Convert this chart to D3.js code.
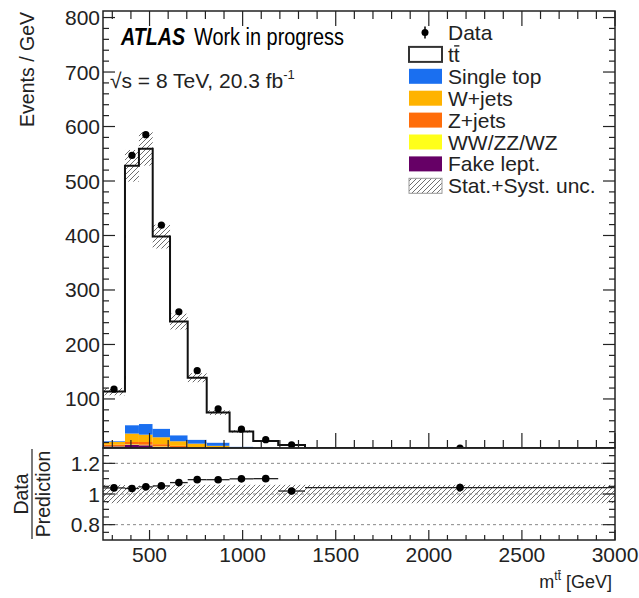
<!DOCTYPE html>
<html><head><meta charset="utf-8">
<script src="https://cdn.jsdelivr.net/npm/d3@7"></script>
<style>
html,body{margin:0;padding:0;background:#fff;}
svg{display:block;font-family:"Liberation Sans",Arial,Helvetica,sans-serif;}
</style></head>
<body>
<svg id="c" width="639" height="598"></svg>
<script>
// ---- data (events / GeV) ----
const binEdges = [250, 368, 443, 517, 610, 705, 807, 930, 1057, 1191, 1335, 3000];
const dataVals = [118, 547, 585, 419, 260, 152, 82, 44.5, 25.3, 15.8, 1.25];
const dataErr  = [1.3, 2.7, 2.8, 2.4, 1.7, 1.1, 0.8, 0.6, 0.45, 0.33, 0.03];
const fakeLept = [13, 16, 15, 12, 10, 7, 5, 3, 2, 1.5, 0.1];
const diboson  = [0.5, 1, 1, 1, 0.8, 0.7, 0.5, 0.4, 0.3, 0.2, 0.02];
const zJets    = [2.5, 4, 5, 4, 3.2, 2.8, 2.5, 1.6, 1.2, 0.8, 0.05];
const wJets    = [5, 15.5, 13.5, 12.7, 8.4, 7.5, 6, 3.5, 3.3, 2, 0.1];
const singleTop= [1.5, 15.4, 19.5, 15.8, 11, 7.3, 6, 4, 4, 2, 0.13];
const ttbar    = [91, 476, 505, 352.5, 208.6, 113.7, 55, 28, 12.2, 9, 0.8];
const uncRel   = [0.06, 0.055, 0.055, 0.055, 0.06, 0.06, 0.06, 0.06, 0.06, 0.06, 0.06];
const yTicksTop = [100, 200, 300, 400, 500, 600, 700, 800];
const yTicksRatio = [0.8, 1, 1.2];
const xTicks = [500, 1000, 1500, 2000, 2500, 3000];

const legendItems = [
  {label:"Data", type:"data"},
  {label:"tt", type:"tt"},
  {label:"Single top", type:"box", color:"#1a6ff0"},
  {label:"W+jets", type:"box", color:"#ffb300"},
  {label:"Z+jets", type:"box", color:"#ff6d0a"},
  {label:"WW/ZZ/WZ", type:"box", color:"#ffff1a"},
  {label:"Fake lept.", type:"box", color:"#660066"},
  {label:"Stat.+Syst. unc.", type:"hatch"}
];

// ---- layout ----
const L = 103, R = 615, T = 11, B1 = 448, B2 = 540;
const svg = d3.select("#c");
const x = d3.scaleLinear().domain([250, 3000]).range([L, R]);
const y = d3.scaleLinear().domain([10, 812]).range([B1, T]).clamp(true);
const yr = d3.scaleLinear().domain([0.7, 1.3]).range([B2, B1]).clamp(true);

const defs = svg.append("defs");
const pat = defs.append("pattern").attr("id","hatch").attr("patternUnits","userSpaceOnUse")
  .attr("width",5).attr("height",5);
pat.append("path").attr("d","M-1,6 L6,-1 M-1,1 L1,-1 M4,6 L6,4")
  .attr("stroke","#6e6e6e").attr("stroke-width",1);
defs.append("clipPath").attr("id","clipTop").append("rect")
  .attr("x",L).attr("y",T).attr("width",R-L).attr("height",B1-T);
defs.append("clipPath").attr("id","clipRat").append("rect")
  .attr("x",L).attr("y",B1).attr("width",R-L).attr("height",B2-B1);

const nb = dataVals.length;
const bins = d3.range(nb).map(i => ({
  i, lo: binEdges[i], hi: binEdges[i+1], c: (binEdges[i]+binEdges[i+1])/2
}));

// stack
const layers = [
  {vals: fakeLept, color: "#660066"},
  {vals: diboson, color: "#ffff1a"},
  {vals: zJets, color: "#ff6d0a"},
  {vals: wJets, color: "#ffb300"},
  {vals: singleTop, color: "#1a6ff0"},
  {vals: ttbar, color: "#ffffff"}
];
const cum = new Array(nb).fill(0);
const gTop = svg.append("g").attr("clip-path","url(#clipTop)");
const stacked = layers.map(Ly => {
  const arr = bins.map(b => {
    const y0 = cum[b.i]; const y1 = y0 + Ly.vals[b.i];
    cum[b.i] = y1; return {b, y0, y1};
  });
  return {Ly, arr};
});
stacked.forEach(s => {
  gTop.selectAll(null).data(s.arr).enter().append("rect")
    .attr("x", d => x(d.b.lo)).attr("width", d => x(d.b.hi) - x(d.b.lo))
    .attr("y", d => y(d.y1)).attr("height", d => Math.max(0, y(d.y0) - y(d.y1)))
    .attr("fill", s.Ly.color).attr("stroke","none");
});
const total = cum.slice();

// uncertainty band
gTop.selectAll(null).data(bins).enter().append("rect")
  .attr("x", b => x(b.lo)).attr("width", b => x(b.hi)-x(b.lo))
  .attr("y", b => y(total[b.i]*(1+uncRel[b.i])))
  .attr("height", b => y(total[b.i]*(1-uncRel[b.i])) - y(total[b.i]*(1+uncRel[b.i])))
  .attr("fill","url(#hatch)");

// total MC outline (step)
const stepPts = [];
bins.forEach(b => { stepPts.push([x(b.lo), y(total[b.i])]); stepPts.push([x(b.hi), y(total[b.i])]); });
const stepPath = "M" + x(binEdges[0]) + "," + y(10) + "L" + stepPts.map(p => p.join(",")).join("L");
gTop.append("path").attr("d", stepPath).attr("fill","none").attr("stroke","#111").attr("stroke-width",2);

// data points top
gTop.selectAll(null).data(bins).enter().append("line")
  .attr("x1", b => x(b.c)).attr("x2", b => x(b.c))
  .attr("y1", b => y(dataVals[b.i]-dataErr[b.i])).attr("y2", b => y(dataVals[b.i]+dataErr[b.i]))
  .attr("stroke","#000").attr("stroke-width",1.5);
gTop.selectAll(null).data(bins).enter().append("circle")
  .attr("cx", b => x(b.c)).attr("cy", b => y(dataVals[b.i])).attr("r",3.6).attr("fill","#000");

// ratio panel
const rat = svg.append("g").attr("clip-path","url(#clipRat)");
rat.selectAll(null).data(bins).enter().append("rect")
  .attr("x", b => x(b.lo)).attr("width", b => x(b.hi)-x(b.lo))
  .attr("y", b => yr(1+uncRel[b.i])).attr("height", b => yr(1-uncRel[b.i]) - yr(1+uncRel[b.i]))
  .attr("fill","url(#hatch)");
[0.8, 1, 1.2].forEach(v => {
  rat.append("line").attr("x1",L).attr("x2",R).attr("y1",yr(v)).attr("y2",yr(v))
    .attr("stroke","#888").attr("stroke-width",1).attr("stroke-dasharray","3,3");
});
const ratio = bins.map(b => dataVals[b.i]/total[b.i]);
const ratioErr = bins.map(b => dataErr[b.i]/total[b.i]);
rat.selectAll(null).data(bins).enter().append("line")
  .attr("x1", b => x(b.lo)).attr("x2", b => x(b.hi))
  .attr("y1", b => yr(ratio[b.i])).attr("y2", b => yr(ratio[b.i]))
  .attr("stroke","#222").attr("stroke-width",1.3);
rat.selectAll(null).data(bins).enter().append("line")
  .attr("x1", b => x(b.c)).attr("x2", b => x(b.c))
  .attr("y1", b => yr(ratio[b.i]-ratioErr[b.i])).attr("y2", b => yr(ratio[b.i]+ratioErr[b.i]))
  .attr("stroke","#000").attr("stroke-width",1.5);
rat.selectAll(null).data(bins).enter().append("circle")
  .attr("cx", b => x(b.c)).attr("cy", b => yr(ratio[b.i])).attr("r",3.8).attr("fill","#000");

// ---- axes: frames and inward ticks ----
const axC = "#222";
function frame(y0, y1) {
  svg.append("rect").attr("x",L).attr("y",y0).attr("width",R-L).attr("height",y1-y0)
    .attr("fill","none").attr("stroke",axC).attr("stroke-width",1.5);
}
frame(T, B1); frame(B1, B2);

function vTicks(scale, majors, minorStep, lo, hi, majLen, minLen) {
  const g = svg.append("g").attr("stroke",axC).attr("stroke-width",1.2);
  const mins = d3.range(lo, hi + 1e-9, minorStep);
  mins.forEach(v => {
    const isMaj = majors.some(m => Math.abs(m - v) < 1e-6);
    const len = isMaj ? majLen : minLen, py = scale(v);
    g.append("line").attr("x1",L).attr("x2",L+len).attr("y1",py).attr("y2",py);
    g.append("line").attr("x1",R).attr("x2",R-len).attr("y1",py).attr("y2",py);
  });
}
vTicks(y, yTicksTop, 20, 20, 800, 12, 6);
vTicks(yr, yTicksRatio, 0.05, 0.75, 1.25, 12, 6);

function hTicks(yBase, dir, majLen, minLen) {
  const g = svg.append("g").attr("stroke",axC).attr("stroke-width",1.2);
  d3.range(300, 3001, 100).forEach(v => {
    const isMaj = v % 500 === 0;
    const len = isMaj ? majLen : minLen, px = x(v);
    g.append("line").attr("x1",px).attr("x2",px).attr("y1",yBase).attr("y2",yBase + dir*len);
  });
}
hTicks(B1, -1, 15, 8);
hTicks(T, 1, 15, 8);
hTicks(B2, -1, 10, 5);

// tick labels
const fs = 21;
svg.append("g").selectAll("text").data(yTicksTop).enter().append("text")
  .attr("x", 100).attr("y", d => y(d) + 7.5).attr("text-anchor","end")
  .attr("font-size",fs).attr("fill","#222").text(d => d);
svg.append("g").selectAll("text").data(yTicksRatio).enter().append("text")
  .attr("x", 100).attr("y", d => yr(d) + 7.5).attr("text-anchor","end")
  .attr("font-size",fs).attr("fill","#222").text(d => d3.format("~g")(d));
svg.append("g").selectAll("text").data(xTicks).enter().append("text")
  .attr("x", d => x(d)).attr("y", 562).attr("text-anchor","middle")
  .attr("font-size",fs).attr("fill","#222").text(d => d);

// axis titles
svg.append("text").attr("transform","translate(34,12) rotate(-90)").attr("text-anchor","end")
  .attr("font-size",19.5).attr("fill","#222").text("Events / GeV");
const xt = svg.append("text").attr("x",612).attr("y",588).attr("text-anchor","end")
  .attr("font-size",18).attr("fill","#222");
xt.append("tspan").text("m");
xt.append("tspan").attr("font-size",12).attr("dy",-8).text("tt");
xt.append("tspan").attr("dy",8).text(" [GeV]");
{
  // bar over second superscript t
  const bb = xt.node().getBBox();
  const wGeV = xt.node().getSubStringLength ? null : null;
  const full = xt.node().getComputedTextLength();
  const startX = 612 - full;
  const mW = 18*0.833, tW = 12*0.278;
  svg.append("line").attr("x1", startX + mW + tW + 0.3).attr("x2", startX + mW + 2*tW - 0.2)
    .attr("y1", 588 - 8 - 9.3).attr("y2", 588 - 8 - 9.3).attr("stroke","#222").attr("stroke-width",1);
}

const ratC = 494;
svg.append("text").attr("transform",`translate(28,${ratC}) rotate(-90)`).attr("text-anchor","middle")
  .attr("font-size",19.5).attr("fill","#222").text("Data");
svg.append("line").attr("x1",32).attr("x2",32).attr("y1",ratC-45).attr("y2",ratC+45)
  .attr("stroke","#222").attr("stroke-width",1.2);
svg.append("text").attr("transform",`translate(50,${ratC}) rotate(-90)`).attr("text-anchor","middle")
  .attr("font-size",19.5).attr("fill","#222").text("Prediction");

// ATLAS label
svg.append("text").attr("x",121).attr("y",45).attr("font-size",24).attr("font-weight","bold")
  .attr("font-style","italic").attr("fill","#000").attr("textLength",64).attr("lengthAdjust","spacingAndGlyphs")
  .text("ATLAS");
svg.append("text").attr("x",194).attr("y",45).attr("font-size",23).attr("fill","#000")
  .attr("textLength",150).attr("lengthAdjust","spacingAndGlyphs").text("Work in progress");
const sq = svg.append("text").attr("x",110).attr("y",88).attr("font-size",21).attr("fill","#222");
sq.append("tspan").text("\u221As = 8 TeV, 20.3 fb");
sq.append("tspan").attr("font-size",13).attr("dy",-9).text("-1");

// legend
const lg = svg.append("g");
legendItems.forEach((it, i) => {
  const cy = 32.5 + i*21.9;
  if (it.type === "data") {
    lg.append("line").attr("x1",425).attr("x2",425).attr("y1",cy-6).attr("y2",cy+6).attr("stroke","#000").attr("stroke-width",1.5);
    lg.append("circle").attr("cx",425).attr("cy",cy).attr("r",3.5).attr("fill","#000");
  } else {
    const fill = it.type === "tt" ? "#fff" : it.type === "hatch" ? "url(#hatch)" : it.color;
    lg.append("rect").attr("x",409).attr("y",cy-7.5).attr("width",33).attr("height",15)
      .attr("fill",fill)
      .attr("stroke", it.type === "tt" ? "#333" : it.type === "hatch" ? "#999" : "none")
      .attr("stroke-width", it.type === "tt" ? 2 : 1);
  }
  lg.append("text").attr("x",448).attr("y",cy+7.5).attr("font-size",21).attr("fill","#222").text(it.label);
  if (it.type === "tt") {
    const tw = 21*0.278;
    lg.append("line").attr("x1",448 + tw + 0.3).attr("x2",448 + 2*tw - 0.3)
      .attr("y1",cy - 8.5).attr("y2",cy - 8.5).attr("stroke","#222").attr("stroke-width",1.4);
  }
});
</script>
</body></html>
